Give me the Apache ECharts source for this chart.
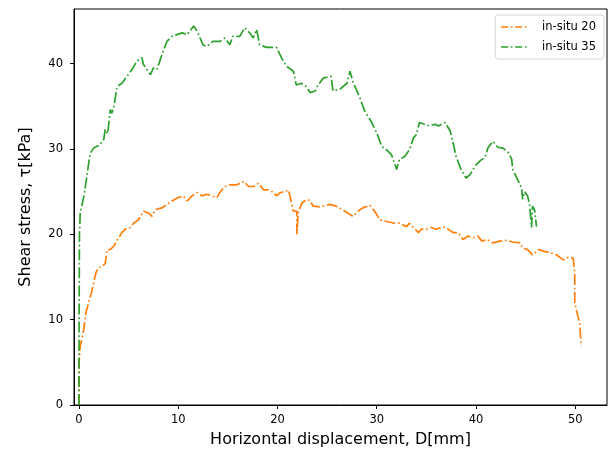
<!DOCTYPE html>
<html>
<head>
<meta charset="utf-8">
<script src="https://cdn.jsdelivr.net/npm/echarts@6/dist/echarts.min.js"></script>
<style>
  html, body { margin: 0; padding: 0; background: #fff; }
  #chart { width: 609px; height: 458px; }
</style>
</head>
<body>
<div id="chart"></div>
<script>
  // in-situ 20: horizontal displacement (mm) and shear stress (kPa)
  const disp20 = [
    0, 0.0, 0.13, 0.3, 0.47, 0.7, 0.98, 1.24, 1.48, 1.71, 1.98, 2.3, 2.65, 2.82, 3.15, 3.5,
    4.0, 4.33, 4.67, 5.17, 5.5, 6.0, 6.5, 7.0, 7.35, 7.7, 8.36, 8.86, 9.37, 10.0, 10.5, 10.9,
    11.4, 11.9, 12.4, 12.9, 13.4, 13.9, 14.2, 14.7, 15.2, 15.9, 16.6, 17.1, 17.6, 18.1, 18.6,
    19.1, 19.6, 19.9, 20.3, 20.8, 21.1, 21.3, 21.6, 21.95, 21.95, 22.1, 22.5, 23.0, 23.3, 23.6,
    24.3, 25.3, 25.9, 26.8, 27.6, 28.1, 28.6, 29.3, 29.8, 30.3, 31.0, 31.8, 32.3, 33.0, 33.3,
    33.7, 34.2, 34.5, 35.0, 35.5, 36.0, 36.7, 37.2, 37.7, 38.2, 38.7, 39.2, 39.7, 40.2, 40.6,
    41.1, 41.7, 42.4, 43.1, 43.7, 44.4, 44.7, 45.2, 45.7, 46.3, 46.9, 47.6, 48.1, 48.8, 49.3,
    49.8, 49.95, 49.95, 49.95, 50.1, 50.45, 50.6
  ]
  const shear20 = [
    0, 4.9, 6.9, 7.7, 8.8, 10.8, 12.0, 13.1, 14.3, 15.5, 16.1, 16.2, 16.6, 18.2, 18.2, 18.6,
    19.6, 20.2, 20.6, 20.8, 21.3, 21.7, 22.7, 22.5, 22.1, 22.9, 23.1, 23.5, 23.9, 24.3, 24.5, 23.9,
    24.5, 24.9, 24.5, 24.7, 24.5, 24.3, 24.9, 25.6, 25.8, 25.8, 26.2, 25.6, 25.6, 26.0, 25.2,
    25.2, 24.9, 24.5, 24.9, 25.0, 25.2, 24.3, 22.7, 22.7, 20.0, 22.7, 23.7, 24.1, 23.9, 23.3,
    23.2, 23.5, 23.3, 22.7, 22.1, 22.7, 23.1, 23.4, 22.7, 21.7, 21.5, 21.3, 21.3, 20.9, 21.3,
    20.8, 20.2, 20.6, 20.6, 20.8, 20.6, 20.9, 20.6, 20.2, 20.2, 19.4, 19.8, 19.6, 19.8, 19.2,
    19.4, 19.0, 19.2, 19.3, 19.1, 19.0, 18.4, 18.2, 17.6, 18.2, 18.0, 17.8, 17.6, 17.0, 17.3,
    17.2, 17.0, 15.5, 12.0, 11.2, 9.6, 6.9
  ]

  // in-situ 35
  const disp35 = [
    0, 0, 0.02, 0.05, 0.13, 0.5, 0.8, 1.0, 1.14, 1.48, 1.98, 2.3, 2.49, 2.65, 2.82, 2.9, 3.15,
    3.3, 3.5, 3.83, 4.33, 4.83, 5.34, 5.84, 6.34, 6.5, 6.85, 7.2, 7.5, 7.85, 8.2, 8.5, 8.86,
    9.37, 9.87, 10.4, 10.9, 11.55, 11.9, 12.2, 12.5, 12.86, 13.5, 14.2, 14.7, 15.2, 15.5, 16.2,
    16.7, 17.2, 17.55, 17.9, 18.2, 18.9, 19.9, 20.4, 20.9, 21.6, 21.9, 22.4, 22.9, 23.3, 23.8,
    24.1, 24.6, 25.4, 25.6, 26.3, 27.0, 27.3, 27.6, 28.3, 28.8, 29.5, 30.0, 30.5, 31.0, 31.5,
    32.0, 32.3, 32.8, 33.3, 33.7, 34.0, 34.3, 34.8, 35.3, 35.9, 36.2, 36.9, 37.4, 37.7, 38.0,
    38.5, 39.0, 39.4, 39.9, 40.4, 40.9, 41.2, 41.7, 41.9, 42.2, 42.7, 43.2, 43.6, 43.7, 44.2,
    44.6, 44.7, 44.9, 45.2, 45.4, 45.6, 45.7, 45.9, 46.1
  ]
  const shear35 = [
    0, 5, 12, 20, 22.5, 24.5, 26.8, 28.5, 29.5, 30.1, 30.4, 30.8, 31.1, 32.3, 32.5, 31.8, 34.6,
    34.2, 34.8, 37.3, 37.7, 38.5, 39.3, 40.3, 40.7, 39.9, 39.3, 38.7, 39.5, 39.3, 40.5, 41.5, 42.6,
    43.2, 43.4, 43.6, 43.4, 44.4, 43.8, 43.0, 42.2, 42.0, 42.6, 42.6, 43.0, 42.2, 43.2, 43.2,
    44.2, 43.6, 43.0, 44.0, 42.2, 41.9, 41.9, 40.7, 39.7, 39.1, 37.5, 37.7, 37.3, 36.6, 36.8,
    37.5, 38.3, 38.5, 36.8, 37.0, 37.7, 39.1, 37.9, 36.0, 34.4, 33.1, 31.9, 30.3, 29.9, 29.3,
    27.6, 28.8, 29.1, 29.9, 31.3, 31.7, 33.1, 32.9, 32.7, 32.9, 32.7, 33.1, 32.1, 30.7, 29.1,
    27.6, 26.6, 27.0, 28.0, 28.6, 29.0, 30.1, 30.9, 31.1, 30.2, 30.1, 29.7, 28.8, 27.6, 26.4,
    25.4, 24.1, 25.0, 24.5, 23.5, 20.8, 23.3, 22.9, 20.9
  ]

  const xTicks = [0, 10, 20, 30, 40, 50]
  const yTicks = [0, 10, 20, 30, 40]

  const zip = (xs, ys) => xs.map((x, i) => [x, ys[i]])

  // matplotlib 风格的点划线
  const dashDot = [11, 2.7, 1.7, 2.7]
  const font = 'DejaVu Sans'

  const chart = echarts.init(document.getElementById('chart'))
  chart.setOption({
    animation: false,
    grid: {
      left: 74,
      top: 9,
      right: 2,
      bottom: 53,
      show: true,
      borderColor: '#000',
      borderWidth: 1
    },
    legend: {
      orient: 'vertical',
      right: 5,
      top: 15,
      padding: [6, 8, 6, 5],
      itemWidth: 28,
      itemHeight: 10,
      itemGap: 8,
      borderColor: '#d6d6d6',
      borderWidth: 1,
      borderRadius: 3,
      backgroundColor: 'rgba(255,255,255,0.8)',
      itemStyle: { opacity: 0 },
      lineStyle: { type: [7, 2.7, 1.7, 2.7], width: 1.7 },
      textStyle: { fontFamily: font, fontSize: 11.5, color: '#000', padding: [0, 0, 0, 8] },
      data: ['in-situ 20', 'in-situ 35']
    },
    xAxis: {
      type: 'value',
      min: -0.5,
      max: 53.2,
      name: 'Horizontal displacement, D[mm]',
      nameLocation: 'middle',
      nameGap: 27,
      nameTextStyle: { fontFamily: font, fontSize: 16, color: '#000' },
      splitLine: { show: false },
      axisLine: { show: true, onZero: false, lineStyle: { color: '#000', width: 1 } },
      axisTick: { show: true, length: 4, customValues: xTicks, lineStyle: { color: '#000' } },
      axisLabel: { customValues: xTicks, margin: 9, fontFamily: font, fontSize: 11.5, color: '#000' }
    },
    yAxis: {
      type: 'value',
      min: 0,
      max: 46.4,
      name: 'Shear stress, τ[kPa]',
      nameLocation: 'middle',
      nameGap: 40,
      nameTextStyle: { fontFamily: font, fontSize: 16, color: '#000' },
      splitLine: { show: false },
      axisLine: { show: true, onZero: false, lineStyle: { color: '#000', width: 1 } },
      axisTick: { show: true, length: 4, customValues: yTicks, lineStyle: { color: '#000' } },
      axisLabel: { customValues: yTicks, margin: 11, fontFamily: font, fontSize: 11.5, color: '#000' }
    },
    series: [
      {
        name: 'in-situ 20',
        type: 'line',
        data: zip(disp20, shear20),
        symbol: 'none',
        color: '#ff7f0e',
        lineStyle: { width: 1.7, type: dashDot, color: '#ff7f0e' }
      },
      {
        name: 'in-situ 35',
        type: 'line',
        data: zip(disp35, shear35),
        symbol: 'none',
        color: '#2ca02c',
        lineStyle: { width: 1.7, type: dashDot, color: '#2ca02c' }
      }
    ]
  })
</script>
</body>
</html>
